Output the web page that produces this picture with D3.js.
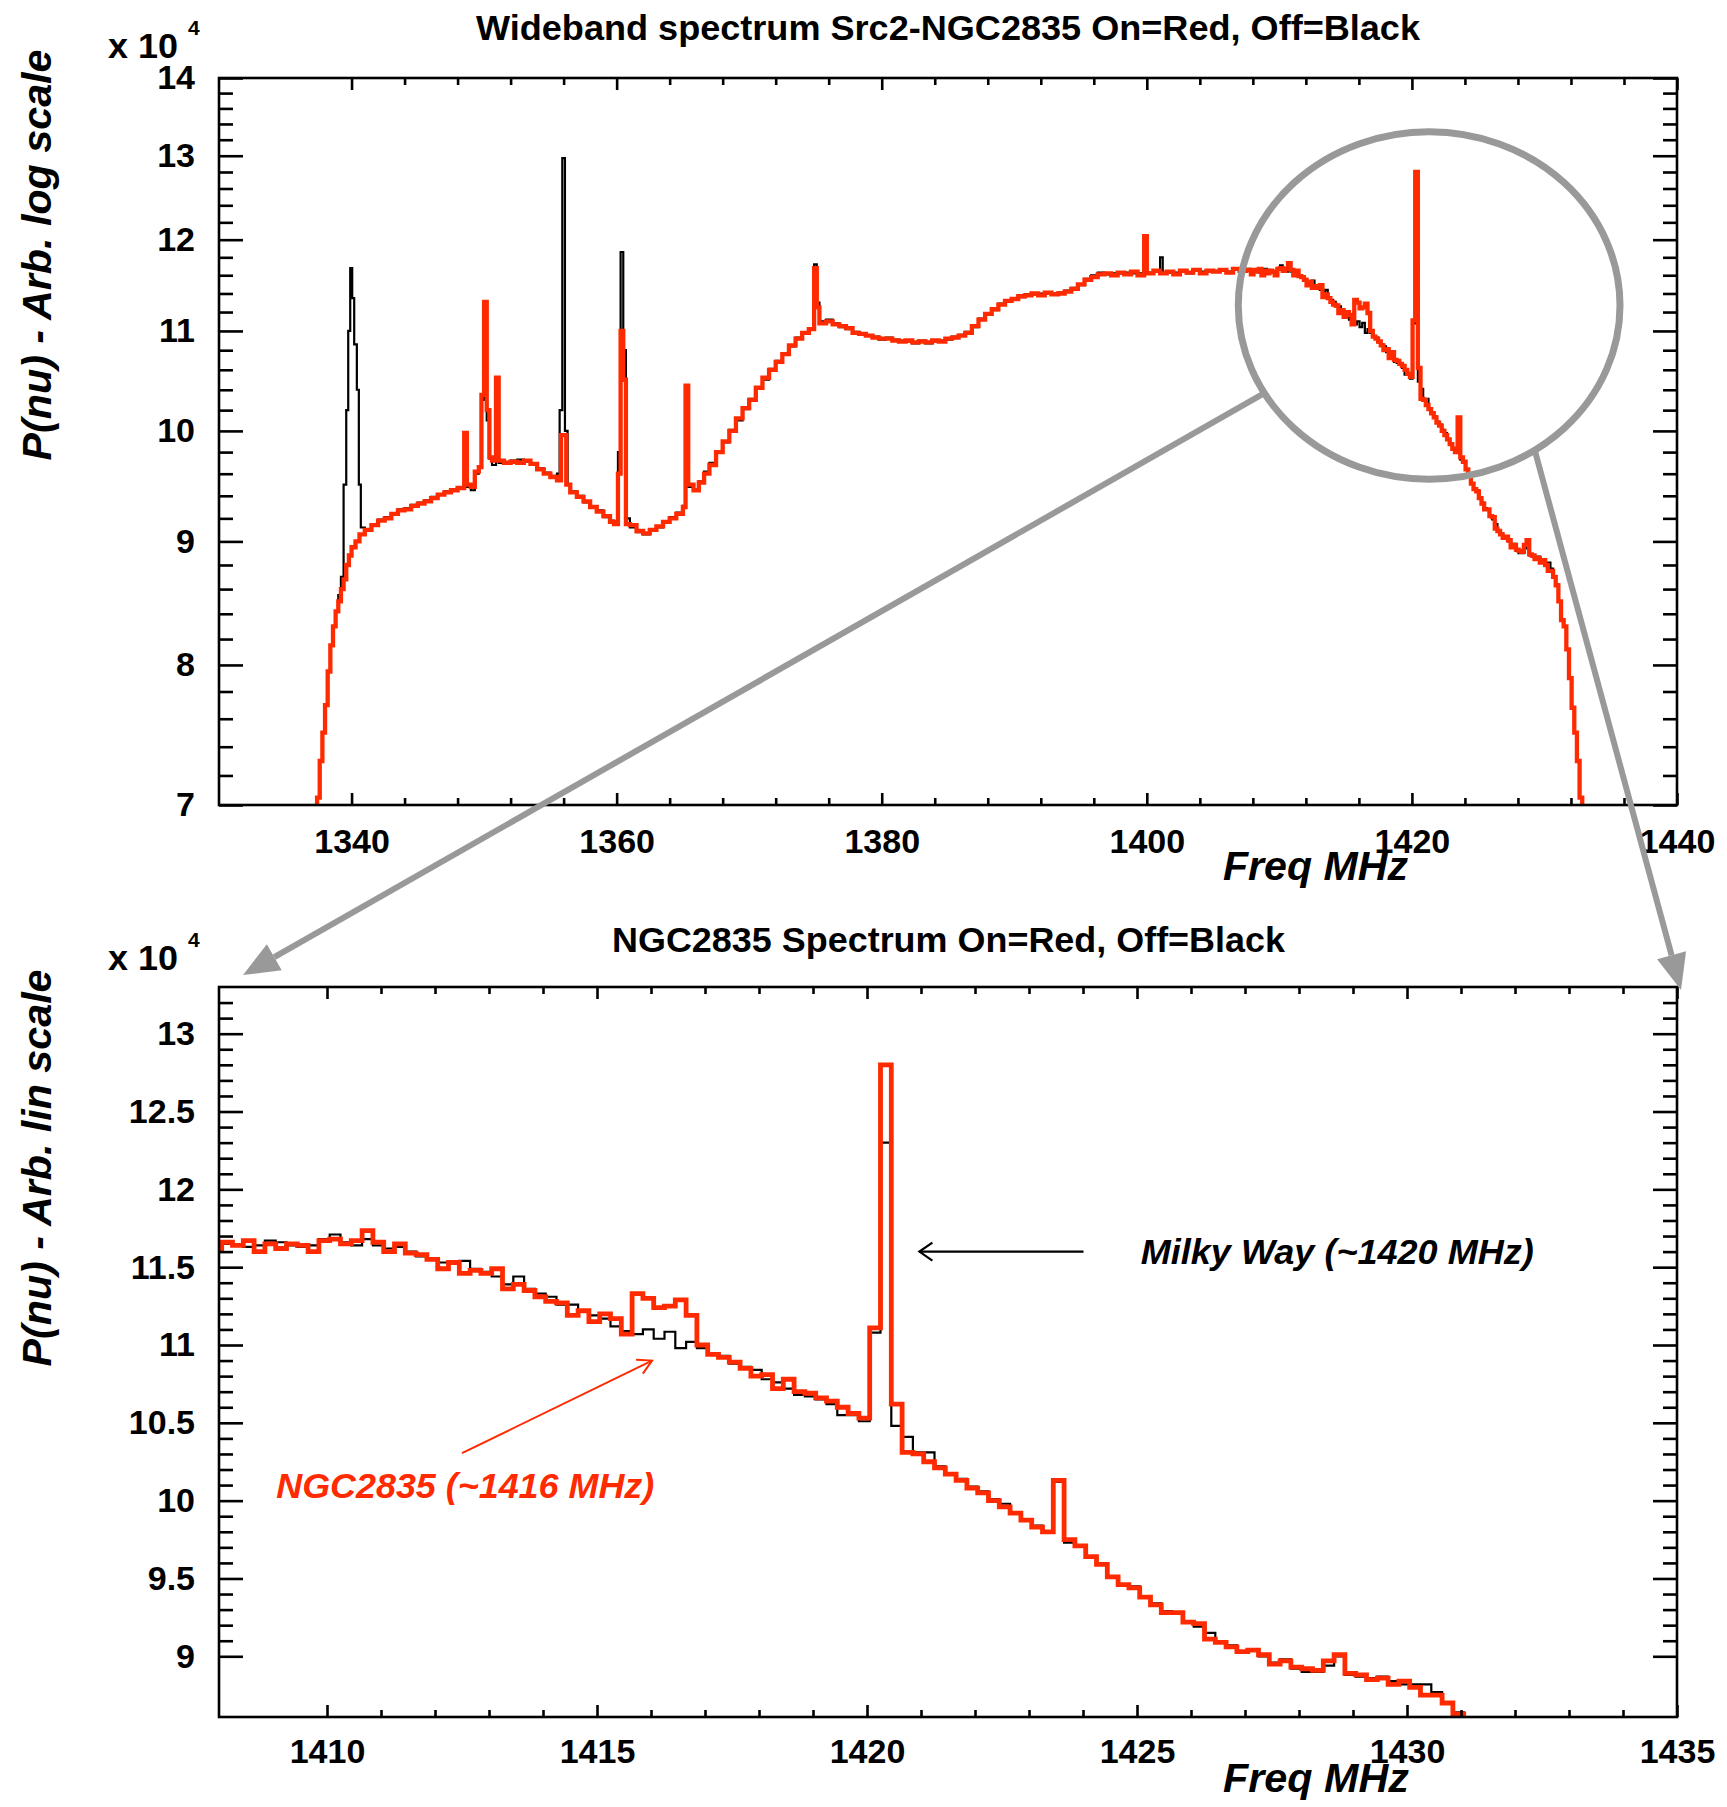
<!DOCTYPE html>
<html><head><meta charset="utf-8">
<script src="https://cdn.jsdelivr.net/npm/d3@7"></script>
<style>
body{margin:0;background:#fff}
text{font-family:"Liberation Sans",Arial,Helvetica,sans-serif;font-weight:bold}
</style>
</head><body>
<svg id="c" width="1727" height="1807"></svg>
<script>
// ---------------- DATA ----------------
// Wideband spectrum (top panel), frequency in MHz, power in units of 1e4
const wideFreq = [1337.0,1337.4,1337.6,1337.8,1338.0,1338.2,1338.4,1338.6,1338.8,1339.0,1339.2,1339.4,1339.6,1339.8,1340.0,1340.3,1340.6,1341.0,1341.5,1342.0,1342.5,1343.0,1343.5,1344.0,1344.5,1345.0,1345.5,1346.0,1346.5,1347.0,1347.5,1348.0,1348.5,1348.7,1349.0,1349.3,1349.6,1349.8,1350.0,1350.2,1350.4,1350.6,1350.9,1351.1,1351.5,1352.0,1352.5,1353.0,1353.5,1354.0,1354.5,1355.0,1355.5,1355.8,1356.0,1356.2,1356.5,1357.0,1357.5,1358.0,1358.5,1359.0,1359.5,1359.8,1360.1,1360.3,1360.5,1360.7,1361.0,1361.5,1362.0,1362.5,1363.0,1363.5,1364.0,1364.5,1365.0,1365.2,1365.4,1365.8,1366.2,1366.6,1367.0,1367.5,1368.0,1368.5,1369.0,1369.5,1370.0,1370.5,1371.0,1371.5,1372.0,1372.5,1373.0,1373.5,1374.0,1374.5,1374.9,1375.1,1375.3,1375.8,1376.3,1376.8,1377.3,1377.8,1378.3,1378.8,1379.3,1379.8,1380.3,1380.8,1381.3,1381.8,1382.3,1382.8,1383.3,1383.8,1384.3,1384.8,1385.3,1385.8,1386.3,1386.8,1387.3,1387.8,1388.3,1388.8,1389.3,1389.8,1390.3,1390.8,1391.3,1391.8,1392.3,1392.8,1393.3,1393.8,1394.3,1394.8,1395.3,1395.8,1396.3,1396.8,1397.3,1397.8,1398.3,1398.8,1399.3,1399.8,1400.0,1400.5,1401.0,1401.5,1402.0,1402.5,1403.0,1403.5,1404.0,1404.5,1405.0,1405.5,1406.0,1406.5,1407.0,1407.5];
const wideOn = [6.9,7.05,7.3,7.5,7.7,7.95,8.15,8.3,8.42,8.5,8.6,8.68,8.8,8.88,8.95,9.0,9.06,9.1,9.14,9.18,9.2,9.24,9.27,9.28,9.31,9.33,9.35,9.38,9.41,9.43,9.45,9.47,9.98,9.5,9.48,9.62,9.66,10.35,11.31,10.2,9.75,9.72,10.52,9.72,9.7,9.71,9.7,9.72,9.69,9.64,9.6,9.57,9.54,9.96,9.96,9.5,9.43,9.39,9.35,9.3,9.26,9.22,9.17,9.15,9.6,11.0,10.5,9.15,9.14,9.09,9.07,9.1,9.13,9.17,9.2,9.24,9.3,10.44,9.5,9.45,9.52,9.6,9.68,9.8,9.9,10.0,10.12,10.22,10.3,10.42,10.52,10.6,10.68,10.76,10.85,10.92,10.98,11.02,11.68,11.25,11.08,11.1,11.07,11.05,11.03,10.98,10.97,10.95,10.93,10.92,10.92,10.9,10.89,10.9,10.88,10.89,10.88,10.9,10.89,10.92,10.93,10.95,10.98,11.05,11.12,11.18,11.23,11.28,11.32,11.34,11.37,11.38,11.4,11.38,11.41,11.39,11.4,11.42,11.45,11.5,11.55,11.58,11.61,11.62,11.6,11.63,11.61,11.64,11.6,12.04,11.62,11.65,11.62,11.64,11.61,11.65,11.63,11.66,11.62,11.65,11.64,11.66,11.63,11.67,11.65,11.66];

const wideOffFreq = [1337.0,1337.4,1337.6,1337.8,1338.0,1338.2,1338.4,1338.6,1338.8,1339.0,1339.2,1339.4,1339.6,1339.75,1339.9,1340.05,1340.2,1340.4,1340.55,1340.7,1341.0,1341.5,1342.0,1342.5,1343.0,1343.5,1344.0,1344.5,1345.0,1345.5,1346.0,1346.5,1347.0,1347.5,1348.0,1348.5,1348.7,1349.0,1349.3,1349.6,1349.8,1350.0,1350.2,1350.4,1350.6,1350.9,1351.1,1351.5,1352.0,1352.5,1353.0,1353.5,1354.0,1354.5,1355.0,1355.5,1355.7,1355.9,1356.1,1356.3,1356.5,1357.0,1357.5,1358.0,1358.5,1359.0,1359.5,1359.8,1360.1,1360.3,1360.5,1360.7,1361.0,1361.5,1362.0,1362.5,1363.0,1363.5,1364.0,1364.5,1365.0,1365.2,1365.4,1365.8,1366.2,1366.6,1367.0,1367.5,1368.0,1368.5,1369.0,1369.5,1370.0,1370.5,1371.0,1371.5,1372.0,1372.5,1373.0,1373.5,1374.0,1374.5,1374.9,1375.1,1375.3,1375.8,1376.3,1376.8,1377.3,1377.8,1378.3,1378.8,1379.3,1379.8,1380.3,1380.8,1381.3,1381.8,1382.3,1382.8,1383.3,1383.8,1384.3,1384.8,1385.3,1385.8,1386.3,1386.8,1387.3,1387.8,1388.3,1388.8,1389.3,1389.8,1390.3,1390.8,1391.3,1391.8,1392.3,1392.8,1393.3,1393.8,1394.3,1394.8,1395.3,1395.8,1396.3,1396.8,1397.3,1397.8,1398.3,1398.8,1399.3,1399.8,1400.0,1400.5,1401.0,1401.2,1401.5,1402.0,1402.5,1403.0,1403.5,1404.0,1404.5,1405.0,1405.5,1406.0,1406.5,1407.0,1407.5];
const wideOff = [6.9,7.05,7.3,7.5,7.7,7.95,8.15,8.3,8.42,8.55,8.7,9.5,10.2,11.0,11.68,11.35,10.86,10.4,9.5,9.12,9.1,9.15,9.19,9.21,9.23,9.28,9.29,9.32,9.34,9.36,9.39,9.41,9.44,9.46,9.47,9.9,9.48,9.45,9.6,9.66,10.3,11.2,10.1,9.74,9.68,10.45,9.7,9.71,9.72,9.73,9.71,9.68,9.65,9.61,9.58,9.6,10.2,12.97,10.0,9.5,9.44,9.4,9.34,9.3,9.27,9.21,9.18,9.15,9.8,11.86,10.8,9.2,9.12,9.08,9.06,9.09,9.12,9.16,9.21,9.25,9.31,10.4,9.48,9.46,9.53,9.62,9.7,9.81,9.89,10.01,10.1,10.21,10.31,10.41,10.5,10.61,10.69,10.77,10.84,10.93,10.97,11.03,11.72,11.3,11.1,11.12,11.08,11.04,11.02,10.99,10.96,10.95,10.94,10.91,10.93,10.91,10.9,10.89,10.87,10.9,10.87,10.89,10.9,10.91,10.94,10.96,10.99,11.04,11.13,11.19,11.22,11.29,11.31,11.35,11.36,11.39,11.39,11.4,11.4,11.4,11.41,11.43,11.46,11.49,11.56,11.6,11.63,11.61,11.62,11.62,11.63,11.62,11.62,11.9,11.63,11.64,11.8,11.63,11.63,11.63,11.64,11.62,11.65,11.64,11.64,11.65,11.65,11.64,11.66,11.66,11.67];

// Zoomed spectrum channels (bottom panel, also continues the top panel)
const zoomStart = 1407.85;   // MHz, left edge of first channel
const zoomWidth = 0.2;       // MHz, channel width
const zoomOn = [11.61,11.66,11.64,11.67,11.60,11.65,11.62,11.65,11.64,11.60,11.67,11.68,11.65,11.67,11.735,11.66,11.60,11.65,11.59,11.58,
  11.55,11.49,11.53,11.46,11.48,11.46,11.49,11.36,11.39,11.35,11.31,11.28,11.27,11.19,11.22,11.15,11.20,11.17,11.07,11.33,
  11.30,11.24,11.25,11.29,11.19,11.00,10.94,10.92,10.89,10.85,10.80,10.81,10.72,10.78,10.70,10.69,10.66,10.64,10.60,10.56,
  10.53,11.11,12.80,10.62,10.31,10.30,10.25,10.21,10.17,10.13,10.08,10.05,10.00,9.96,9.92,9.875,9.83,9.80,10.13,9.75,
  9.71,9.64,9.59,9.51,9.46,9.44,9.38,9.33,9.28,9.28,9.22,9.21,9.11,9.09,9.06,9.03,9.04,9.01,8.95,8.97,
  8.93,8.92,8.91,8.97,9.01,8.89,8.88,8.85,8.86,8.82,8.84,8.80,8.75,8.75,8.70,8.63,8.50,8.35];
const zoomOff = [11.66,11.65,11.64,11.63,11.64,11.67,11.66,11.64,11.63,11.64,11.68,11.71,11.66,11.64,11.68,11.64,11.62,11.63,11.60,11.57,
  11.55,11.53,11.53,11.54,11.49,11.47,11.44,11.39,11.44,11.36,11.33,11.31,11.26,11.26,11.22,11.19,11.17,11.12,11.09,11.07,
  11.10,11.04,11.085,10.98,11.02,10.98,10.94,10.93,10.88,10.86,10.84,10.78,10.76,10.72,10.68,10.67,10.65,10.62,10.55,10.55,
  10.51,11.08,12.30,10.48,10.41,10.31,10.31,10.22,10.17,10.14,10.09,10.06,10.01,9.98,9.92,9.87,9.84,9.80,10.12,9.73,
  9.71,9.64,9.59,9.51,9.46,9.45,9.38,9.34,9.29,9.28,9.22,9.19,9.15,9.09,9.07,9.03,9.04,9.00,8.96,8.98,
  8.92,8.90,8.90,8.94,9.00,8.88,8.87,8.86,8.87,8.84,8.82,8.82,8.82,8.77,8.70,8.64,8.50,8.35];

// Band-edge roll-off (top panel only)
const tailFreq = [1431.45,1431.65,1431.85,1432.05,1432.25,1432.45,1432.65,1432.85];
const tailVals = [8.30,8.12,7.90,7.68,7.50,7.30,7.05,6.80];

// Ticks
const topXMajor = [1340,1360,1380,1400,1420,1440];
const topYMajor = [7,8,9,10,11,12,13,14];
const botXMajor = [1410,1415,1420,1425,1430,1435];
const botYMajor = [9,9.5,10,10.5,11,11.5,12,12.5,13];

const titleTop = "Wideband spectrum Src2-NGC2835 On=Red, Off=Black";
const titleBot = "NGC2835 Spectrum On=Red, Off=Black";
const yTitleTop = "P(nu) - Arb.  log scale";
const yTitleBot = "P(nu) - Arb.  lin scale";
const xTitle = "Freq MHz";
const noteMW = "Milky Way (~1420 MHz)";
const noteNGC = "NGC2835 (~1416 MHz)";

// ---------------- LAYOUT ----------------
const RED = "#ff2a00", GRAY = "#999999";
const svg = d3.select("#c");
svg.append("rect").attr("width",1727).attr("height",1807).attr("fill","#fff");
const topBox = {l:219, r:1677, t:78, b:805};
const botBox = {l:219, r:1677, t:987, b:1717};

const xTop = d3.scaleLinear().domain([1330,1440]).range([topBox.l, topBox.r]);
const yTop = d3.scaleLog().domain([7,14]).range([topBox.b, topBox.t]);
const xBot = d3.scaleLinear().domain([1408,1435]).range([botBox.l, botBox.r]);
const yBot = d3.scaleLinear().domain([8.61,13.3]).range([botBox.b, botBox.t]);

const zoomFreq = zoomOn.map((v,i) => zoomStart + i*zoomWidth);

function pairs(fs, vs){ return fs.map((f,i)=>[f, vs[i]]); }
function closeSteps(pts, w){ const l = pts[pts.length-1]; return pts.concat([[l[0]+w, l[1]]]); }

const topOnPts = closeSteps(pairs(wideFreq, wideOn).concat(pairs(zoomFreq, zoomOn), pairs(tailFreq, tailVals)), 0.2);
const topOffPts = closeSteps(pairs(wideOffFreq, wideOff).concat(pairs(zoomFreq, zoomOff), pairs(tailFreq, tailVals)), 0.2);
const botOnPts = closeSteps(pairs(zoomFreq, zoomOn), zoomWidth);
const botOffPts = closeSteps(pairs(zoomFreq, zoomOff), zoomWidth);

// clip paths
const defs = svg.append("defs");
defs.append("clipPath").attr("id","clipTop").append("rect")
  .attr("x",topBox.l).attr("y",topBox.t).attr("width",topBox.r-topBox.l).attr("height",topBox.b-topBox.t);
defs.append("clipPath").attr("id","clipBot").append("rect")
  .attr("x",botBox.l).attr("y",botBox.t).attr("width",botBox.r-botBox.l).attr("height",botBox.b-botBox.t);

function drawSeries(pts, x, y, clip, color, width){
  const line = d3.line().x(d=>x(d[0])).y(d=>y(Math.max(d[1], 6))).curve(d3.curveStepAfter);
  svg.append("path").attr("d", line(pts)).attr("fill","none").attr("stroke",color)
    .attr("stroke-width",width).attr("stroke-linejoin","miter").attr("clip-path",`url(#${clip})`);
}
drawSeries(topOffPts, xTop, yTop, "clipTop", "#000", 2.2);
drawSeries(topOnPts, xTop, yTop, "clipTop", RED, 4.3);
drawSeries(botOffPts, xBot, yBot, "clipBot", "#000", 2.2);
drawSeries(botOnPts, xBot, yBot, "clipBot", RED, 4.8);

// axes
function styleAxis(g){
  g.select(".domain").remove();
  g.selectAll("line").attr("stroke","#000").attr("stroke-width",2.6);
  g.selectAll("text").attr("font-size",34).attr("font-weight","bold").attr("fill","#000")
    .attr("font-family",'"Liberation Sans",Arial,Helvetica,sans-serif');
}
function drawAxes(box, x, y, xMaj, xMin, yMaj, yMin, yFmt, xPad){
  const fx = d3.format("d");
  const none = () => "";
  const mk = (axis, tx, ty) => { const g = svg.append("g").attr("transform",`translate(${tx},${ty})`).call(axis); styleAxis(g); return g; };
  mk(d3.axisBottom(x).tickValues(xMaj).tickSize(-12).tickPadding(xPad).tickFormat(fx), 0, box.b);
  mk(d3.axisBottom(x).tickValues(xMin).tickSize(-7).tickFormat(none), 0, box.b);
  mk(d3.axisTop(x).tickValues(xMaj).tickSize(-12).tickFormat(none), 0, box.t);
  mk(d3.axisTop(x).tickValues(xMin).tickSize(-7).tickFormat(none), 0, box.t);
  mk(d3.axisLeft(y).tickValues(yMaj).tickSize(-24).tickPadding(24).tickFormat(yFmt), box.l, 0);
  mk(d3.axisLeft(y).tickValues(yMin).tickSize(-14).tickFormat(none), box.l, 0);
  mk(d3.axisRight(y).tickValues(yMaj).tickSize(-24).tickFormat(none), box.r, 0);
  mk(d3.axisRight(y).tickValues(yMin).tickSize(-14).tickFormat(none), box.r, 0);
  svg.append("rect").attr("x",box.l).attr("y",box.t).attr("width",box.r-box.l).attr("height",box.b-box.t)
    .attr("fill","none").attr("stroke","#000").attr("stroke-width",2.6);
}
const topXMinor = d3.range(topXMajor[0], 1440, 4).filter(v => v % 20 !== 0);
const topYMinor = d3.range(7.2, 13.9, 0.2).map(v => +v.toFixed(1)).filter(v => Math.abs(v - Math.round(v)) > 1e-6);
const botXMinor = d3.range(botXMajor[0], 1435, 1).filter(v => v % 5 !== 0);
const botYMinor = d3.range(9.1, 13.25, 0.1).map(v => +v.toFixed(1)).filter(v => Math.abs(v*2 - Math.round(v*2)) > 1e-6);

drawAxes(topBox, xTop, yTop, topXMajor, topXMinor, topYMajor, topYMinor, d3.format("d"), 24);
drawAxes(botBox, xBot, yBot, botXMajor, botXMinor, botYMajor, botYMinor, d3.format("~g"), 22);

// titles and labels
function txt(x, y, s, opt={}){
  const t = svg.append("text").attr("x",x).attr("y",y).text(s)
    .attr("font-size",opt.size||34).attr("fill",opt.fill||"#000");
  if (opt.italic) t.attr("font-style","italic");
  if (opt.anchor) t.attr("text-anchor",opt.anchor);
  if (opt.len) t.attr("textLength",opt.len).attr("lengthAdjust","spacingAndGlyphs");
  if (opt.rot) t.attr("transform",`rotate(-90,${x},${y})`);
  return t;
}
txt(476, 40, titleTop, {size:35, len:944});
txt(612, 952, titleBot, {size:35, len:673});

// x 10^4 multipliers
[58, 970].forEach(base => {
  txt(108, base, "x 10", {size:35, len:70});
  txt(188, base-23, "4", {size:21});
});

// axis titles
txt(51, 255, yTitleTop, {size:40, italic:true, anchor:"middle", rot:true, len:411});
txt(51, 1168, yTitleBot, {size:40, italic:true, anchor:"middle", rot:true, len:397});
txt(1223, 880, xTitle, {size:40, italic:true, len:185});
txt(1223, 1792, xTitle, {size:40, italic:true, len:186});

// annotations in bottom panel (data coordinates)
const mwTail = [xBot(1424.01), yBot(11.6)], mwTip = [xBot(1420.97), yBot(11.6)];
svg.append("line").attr("x1",mwTail[0]).attr("y1",mwTail[1]).attr("x2",mwTip[0]).attr("y2",mwTip[1])
  .attr("stroke","#000").attr("stroke-width",2.2);
svg.append("path").attr("d",`M${mwTip[0]+13},${mwTip[1]-9} L${mwTip[0]},${mwTip[1]} L${mwTip[0]+13},${mwTip[1]+9}`)
  .attr("fill","none").attr("stroke","#000").attr("stroke-width",2.2);
txt(xBot(1425.07), yBot(11.52), noteMW, {size:35, italic:true, len:393});

const ngTail = [xBot(1412.5), yBot(10.305)], ngTip = [xBot(1416.02), yBot(10.90)];
svg.append("line").attr("x1",ngTail[0]).attr("y1",ngTail[1]).attr("x2",ngTip[0]).attr("y2",ngTip[1])
  .attr("stroke",RED).attr("stroke-width",2);
{
  const a = Math.atan2(ngTip[1]-ngTail[1], ngTip[0]-ngTail[0]);
  const L = 16, s = 0.5;
  const p1 = [ngTip[0]-L*Math.cos(a-s), ngTip[1]-L*Math.sin(a-s)];
  const p2 = [ngTip[0]-L*Math.cos(a+s), ngTip[1]-L*Math.sin(a+s)];
  svg.append("path").attr("d",`M${p1} L${ngTip} L${p2}`).attr("fill","none").attr("stroke",RED).attr("stroke-width",2);
}
txt(xBot(1409.06), yBot(10.02), noteNGC, {size:35, italic:true, fill:RED, len:378});

// gray zoom ellipse and arrows
const ecx = xTop(1421.3), ecy = (yTop(13.3)+yTop(9.55))/2;
const erx = xTop(1435.7)-xTop(1421.3), ery = (yTop(9.55)-yTop(13.3))/2;
svg.append("ellipse").attr("cx",ecx).attr("cy",ecy).attr("rx",erx).attr("ry",ery)
  .attr("fill","none").attr("stroke",GRAY).attr("stroke-width",7);
function grayArrow(theta, tip){
  const st = [ecx + erx*Math.cos(theta), ecy + ery*Math.sin(theta)];
  const a = Math.atan2(tip[1]-st[1], tip[0]-st[0]);
  const L = 36, hw = 15;
  const base = [tip[0]-L*Math.cos(a), tip[1]-L*Math.sin(a)];
  svg.append("line").attr("x1",st[0]).attr("y1",st[1]).attr("x2",base[0]).attr("y2",base[1])
    .attr("stroke",GRAY).attr("stroke-width",6);
  const p1 = [base[0]+hw*Math.sin(a), base[1]-hw*Math.cos(a)];
  const p2 = [base[0]-hw*Math.sin(a), base[1]+hw*Math.cos(a)];
  svg.append("path").attr("d",`M${tip} L${p1} L${p2} Z`).attr("fill",GRAY);
}
grayArrow(149.7*Math.PI/180, [botBox.l+24, botBox.t-12]);
grayArrow(56.4*Math.PI/180, [botBox.r+4, botBox.t+3]);
</script>
</body></html>
